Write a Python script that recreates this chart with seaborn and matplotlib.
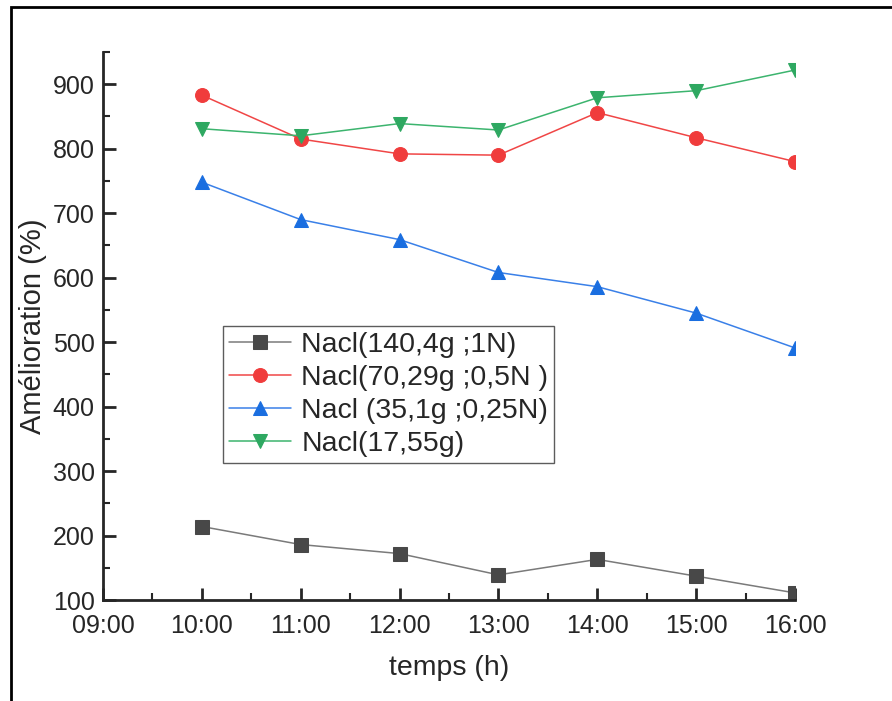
import numpy as np
import pandas as pd
import matplotlib
matplotlib.use('Agg')
import matplotlib.pyplot as plt
import seaborn as sns
from matplotlib.patches import Rectangle
from matplotlib.ticker import MultipleLocator, FuncFormatter

heures = [10, 11, 12, 13, 14, 15, 16]
nacl_1N = [214, 186, 172, 139, 163, 137, 111]
nacl_05N = [883, 815, 792, 790, 856, 817, 780]
nacl_025N = [748, 690, 659, 608, 586, 545, 491]
nacl_17g = [831, 820, 839, 829, 879, 890, 922]
noms = ['Nacl(140,4g ;1N)', 'Nacl(70,29g ;0,5N )',
        'Nacl (35,1g ;0,25N)', 'Nacl(17,55g)']

sns.set_style('ticks')
plt.rcParams['font.family'] = ['Liberation Sans', 'DejaVu Sans']

fig = plt.figure(figsize=(8.92, 7.01), dpi=100)
ax = fig.add_axes([103/892, 1-600/701, (795-103)/892, (600-52)/701])

# cadre exterieur
fig.patches.append(Rectangle((11/892, -0.1), 1.2, 1.1 - 7/701,
                             transform=fig.transFigure, fill=False,
                             edgecolor='black', linewidth=2))

series = [nacl_1N, nacl_05N, nacl_025N, nacl_17g]
lignes = ['#7a7a7a', '#f04646', '#3a80e8', '#3cb46e']
faces = ['#484848', '#f03c3c', '#1a6ee0', '#2ea861']
marqueurs = ['s', 'o', '^', 'v']

for vals, nom, lc, fc, m in zip(series, noms, lignes, faces, marqueurs):
    sns.lineplot(x=heures, y=vals, ax=ax, color=lc, marker=m,
                 markersize=10, markerfacecolor=fc, markeredgecolor=fc,
                 linewidth=1.1, label=nom)

ax.set_xlim(9, 16)
ax.set_ylim(100, 950)
ax.xaxis.set_major_locator(MultipleLocator(1))
ax.xaxis.set_minor_locator(MultipleLocator(0.5))
ax.yaxis.set_major_locator(MultipleLocator(100))
ax.yaxis.set_minor_locator(MultipleLocator(50))
ax.xaxis.set_major_formatter(FuncFormatter(lambda v, p: '%02d:00' % int(round(v))))

for s in ['top', 'right']:
    ax.spines[s].set_visible(False)
for s in ['left', 'bottom']:
    ax.spines[s].set_linewidth(2)

ax.tick_params(which='major', direction='in', length=9, width=2,
               labelsize=18)
ax.tick_params(which='minor', direction='in', length=5, width=1.5)
ax.tick_params(axis='x', which='major', pad=10)
ax.tick_params(axis='y', which='major', pad=6)

ax.set_xlabel('temps (h)', fontsize=20.5, labelpad=12)
ax.set_ylabel('Amélioration (%)', fontsize=21, labelpad=4)

leg = ax.legend(loc='upper left', bbox_to_anchor=(120/692, 0.5),
                borderaxespad=0, fontsize=20.5, frameon=True, fancybox=False,
                handlelength=2.2, handletextpad=0.35, labelspacing=0.25,
                borderpad=0.2)
leg.get_frame().set_edgecolor('#333333')
leg.get_frame().set_linewidth(1)

fig.savefig('out.png', dpi=100)
